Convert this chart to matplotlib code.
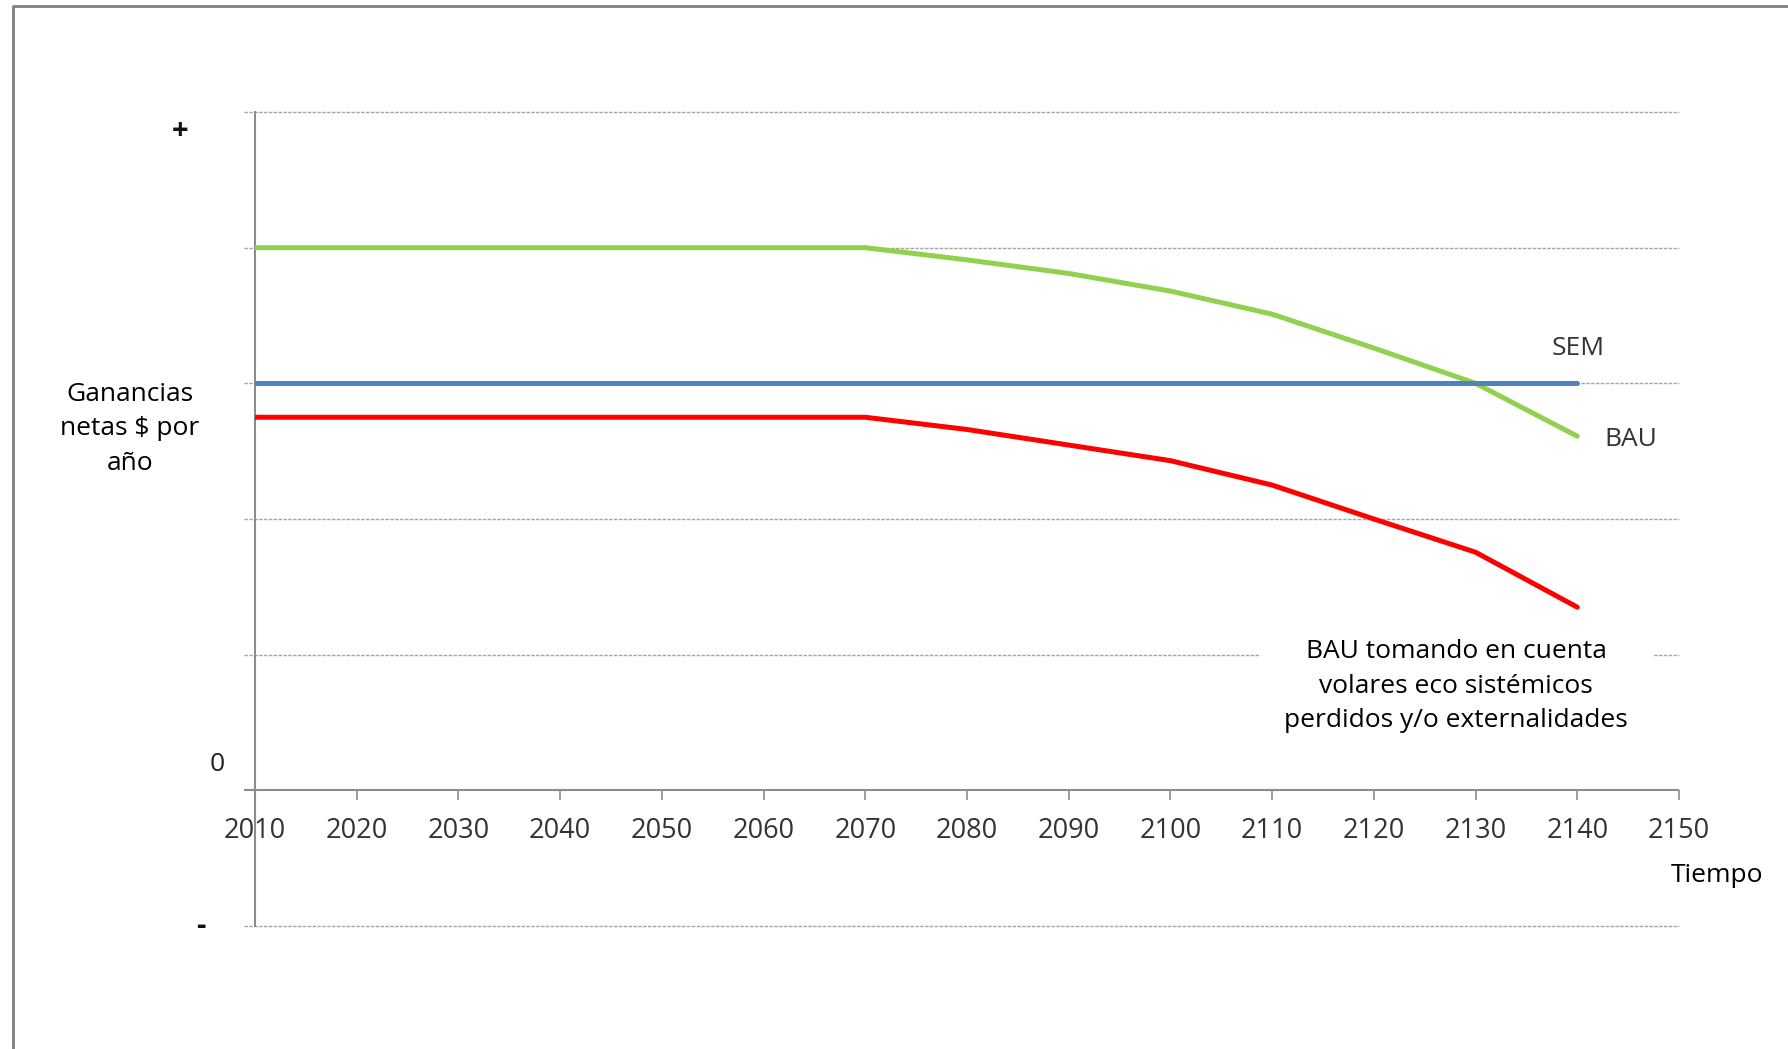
import numpy as np
import matplotlib
matplotlib.use('Agg')
import matplotlib.pyplot as plt
from matplotlib.lines import Line2D

# series (arbitrary units, 0 = break even)
years   = [2010, 2020, 2030, 2040, 2050, 2060, 2070, 2080, 2090, 2100, 2110, 2120, 2130, 2140]
bau     = [4.0, 4.0, 4.0, 4.0, 4.0, 4.0, 4.0, 3.91, 3.81, 3.68, 3.51, 3.26, 3.0, 2.61]
sem     = [3.0] * len(years)
bau_ext = [2.75, 2.75, 2.75, 2.75, 2.75, 2.75, 2.75, 2.66, 2.545, 2.43, 2.25, 2.0, 1.755, 1.35]

xticks = list(range(2010, 2151, 10))
grid_y = [-1, 1, 2, 3, 4, 5]

plt.rcParams['font.family'] = ['Open Sans', 'DejaVu Sans']

W, H = 1788, 1049
fig = plt.figure(figsize=(W/100., H/100.), dpi=100)
fig.patch.set_facecolor('white')

# outer frame, only left and top edges show
fig.add_artist(Line2D([13./W, 13./W, 1.0], [0.0, 1-6./H, 1-6./H], transform=fig.transFigure,
                      color='#7f7f7f', linewidth=2.0))

ax = fig.add_axes([255./W, 123./H, 1424./W, 814./H])
ax.set_xlim(2010, 2150)
ax.set_ylim(-1, 5)

# dashed gridlines, stuck out a little to the left of the axis
ax.hlines(grid_y, 2008.9, 2150, colors='#a6a6a6', linestyles=(0, (2.5, 1)), linewidth=1.0,
          clip_on=False, zorder=1)
ax.hlines([0], 2008.9, 2150, colors='#8c8c8c', linewidth=1.5, clip_on=False, zorder=1)

ax.plot(years, bau, color='#92d050', linewidth=3.6, solid_capstyle='round', zorder=3)
ax.plot(years, sem, color='#4f81bd', linewidth=3.6, solid_capstyle='round', zorder=3)
ax.plot(years, bau_ext, color='#ff0000', linewidth=3.6, solid_capstyle='round', zorder=3)

for s in ['top', 'right', 'bottom']:
    ax.spines[s].set_visible(False)
ax.spines['left'].set_color('#8c8c8c')
ax.spines['left'].set_linewidth(1.5)

ax.set_yticks([])
ax.set_xticks(xticks)
ax.set_xticklabels([str(x) for x in xticks])
# ticks hang from the zero line, not from the bottom of the axes
ax.xaxis.set_ticks_position('bottom')
ax.spines['bottom'].set_position(('data', 0))
ax.tick_params(axis='x', direction='out', length=7.2, width=1.2, color='#8c8c8c',
               labelsize=19.5, labelcolor='#333333', pad=12)

fs = 19
ax.text(2002.6, 5.0 - 20/135.67, '+', fontsize=fs+2, fontweight='bold', ha='center', va='center', color='#111111')
ax.text(2006.3, 0.0 + 26/135.67, '0', fontsize=fs, ha='center', va='center', color='#222222')
ax.text(2004.7, -1.0, '-', fontsize=fs+2, fontweight='bold', ha='center', va='center', color='#111111')

fig.text(130./W, 1 - 429./H, 'Ganancias\nnetas $ por\naño', fontsize=fs, ha='center',
         va='center', linespacing=1.5)
fig.text(1717./W, 1 - 875./H, 'Tiempo', fontsize=fs, ha='center', va='center')

ax.text(2140.1, 3.0 + 35/135.67, 'SEM', fontsize=fs, ha='center', va='center', color='#333333')
ax.text(2145.3, 3.0 - 56/135.67, 'BAU', fontsize=fs, ha='center', va='center', color='#333333')

ax.text(2128.1, (790 - 686)/135.67, 'BAU tomando en cuenta\nvolares eco sistémicos\nperdidos y/o externalidades',
        fontsize=fs, ha='center', va='center', linespacing=1.5, zorder=2.5,
        bbox=dict(boxstyle='square,pad=0.95', facecolor='white', edgecolor='none'))

plt.savefig('out.png', dpi=100)
